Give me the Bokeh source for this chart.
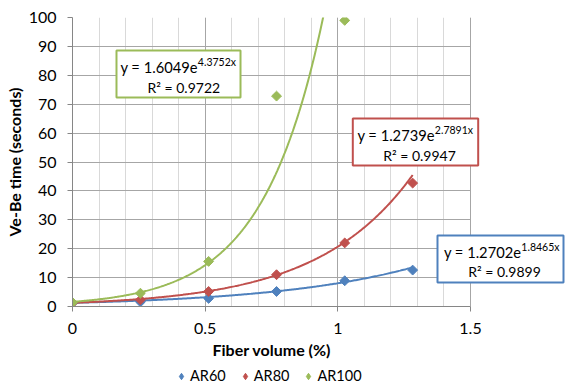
import numpy as np
from bokeh.plotting import figure
from bokeh.layouts import column
from bokeh.models import (Range1d, SingleIntervalTicker, Legend, LegendItem, Grid, Title,
                          BoxAnnotation, Label, NumeralTickFormatter)
from bokeh.embed import file_html
from bokeh.resources import INLINE

# ---- data ----
fiber_volume = [0.0, 0.256, 0.513, 0.769, 1.026, 1.282]
ar60 = [1.2, 1.6, 2.8, 5.2, 8.9, 12.6]
ar80 = [1.2, 2.3, 5.2, 11.0, 22.0, 42.7]
ar100_x = [0.0, 0.256, 0.513, 0.769, 1.026]
ar100 = [1.4, 4.6, 15.6, 72.8, 99.0]

series_names = ["AR60", "AR80", "AR100"]
trend_a = [1.2702, 1.2739, 1.6049]
trend_b = [1.8465, 2.7891, 4.3752]
trend_r2 = ["0.9899", "0.9947", "0.9722"]
colors = ["#4F81BD", "#C0504D", "#9BBB59"]

x_axis_max = 1.5
y_axis_max = 100

FONT = "Lato"
TXT = "#000000"

p = figure(width=570, height=365, x_range=Range1d(0, 1.8618), y_range=Range1d(0, y_axis_max),
           output_backend="svg", toolbar_location=None,
           min_border_left=72, min_border_right=4, min_border_top=17, min_border_bottom=59)
p.outline_line_color = None

xt = SingleIntervalTicker(interval=0.5, num_minor_ticks=5)
yt = SingleIntervalTicker(interval=10, num_minor_ticks=0)
p.xaxis.ticker = xt
p.xgrid.ticker = xt
p.yaxis.ticker = yt
p.ygrid.ticker = yt
p.xaxis.formatter = NumeralTickFormatter(format="0.[0]")
p.xaxis.bounds = (0, x_axis_max)
p.xgrid.bounds = (0, x_axis_max)

for ax in (p.xaxis, p.yaxis):
    ax.axis_line_color = "#868686"
    ax.major_tick_line_color = "#868686"
    ax.major_tick_out = 5
    ax.major_tick_in = 0
    ax.minor_tick_line_color = None
    ax.major_label_text_font = FONT
    ax.major_label_text_font_size = "16px"
    ax.major_label_text_color = TXT
    ax.major_label_standoff = 11
    ax.axis_label_text_font = FONT
    ax.axis_label_text_font_size = "16px"
    ax.axis_label_text_font_style = "bold"
    ax.axis_label_text_color = TXT

p.yaxis.axis_label = "Ve-Be time (seconds)"
p.yaxis.axis_label_standoff = 2

# x-axis title, aligned over the 0-1.5 axis span
p.add_layout(Title(text="Fiber volume (%)", align="left", offset=140, standoff=3,
                   text_font=FONT, text_font_size="16px", text_font_style="bold",
                   text_color=TXT), "below")

p.xgrid.grid_line_color = "#a6a6a6"
p.xgrid.minor_grid_line_color = "#d9d9d9"
p.ygrid.grid_line_color = "#a6a6a6"
if "cross_bounds" in Grid.properties():
    p.ygrid.cross_bounds = (0, x_axis_max)
else:
    p.ygrid.visible = False
    yticks = list(range(10, y_axis_max + 1, 10))
    p.segment(x0=[0] * len(yticks), x1=[x_axis_max] * len(yticks), y0=yticks, y1=yticks,
              line_color="#a6a6a6", line_width=1, level="underlay")

xs_list = [fiber_volume, fiber_volume, ar100_x]
ys_list = [ar60, ar80, ar100]

# trendlines (from the displayed fit equations)
for i in range(3):
    xx = np.linspace(0, max(xs_list[i]), 300)
    yy = trend_a[i] * np.exp(trend_b[i] * xx)
    p.line(xx, yy, line_color=colors[i], line_width=2)

for i in range(3):
    p.scatter(xs_list[i], ys_list[i], marker="square", angle=np.pi / 4,
              size=7, fill_color=colors[i], line_color=colors[i])

# equation boxes: left, right, top, bottom, junction x, line1 y, exp y, line2 x, line2 y
boxes = [
    (1.3756, 1.8505, 24.57, 8.30, 1.6915, 18.86, 20.59, 1.628, 11.94),
    (1.0564, 1.5290, 65.05, 48.79, 1.3655, 59.34, 61.07, 1.3078, 52.42),
    (0.1658, 0.6332, 88.58, 72.32, 0.4723, 82.87, 84.60, 0.4195, 75.95),
]
for i in range(3):
    l, r_, t, b, jx, y1, ye, x2, y2 = boxes[i]
    p.add_layout(BoxAnnotation(left=l, right=r_, top=t, bottom=b, fill_color="white",
                               fill_alpha=1, line_color=colors[i], line_alpha=1, line_width=2))
    p.add_layout(Label(x=jx, y=y1, text="y = %.4fe" % trend_a[i], text_align="right",
                       text_baseline="middle", text_font=FONT, text_font_size="14.7px",
                       text_color=TXT))
    p.add_layout(Label(x=jx, y=ye, text="%.4fx" % trend_b[i], text_align="left",
                       text_baseline="middle", text_font=FONT, text_font_size="10.5px",
                       text_color=TXT))
    p.add_layout(Label(x=x2, y=y2, text="R² = " + trend_r2[i], text_align="center",
                       text_baseline="middle", text_font=FONT, text_font_size="14px",
                       text_color=TXT))

# legend strip below the chart
p_leg = figure(width=570, height=22, x_range=Range1d(0, 1), y_range=Range1d(0, 1),
               output_backend="svg", toolbar_location=None,
               x_axis_location=None, y_axis_location=None,
               min_border_left=0, min_border_right=0, min_border_top=0, min_border_bottom=0)
p_leg.outline_line_color = None
p_leg.grid.visible = False
leg_r = []
for i in range(3):
    leg_r.append(p_leg.scatter(xs_list[i], ys_list[i], marker="diamond", size=10,
                               fill_color=colors[i], line_color=colors[i], visible=False))
legend = Legend(items=[LegendItem(label=series_names[i], renderers=[leg_r[i]]) for i in range(3)],
                orientation="horizontal", location=(101, 3),
                label_text_font=FONT, label_text_font_size="14.5px", label_text_color=TXT,
                glyph_width=16, glyph_height=16, label_height=16, label_standoff=1, spacing=11,
                padding=0, margin=0, border_line_color=None, background_fill_alpha=0)
p_leg.add_layout(legend, "center")

open("out.html", "w").write(file_html(column(p, p_leg), INLINE))
